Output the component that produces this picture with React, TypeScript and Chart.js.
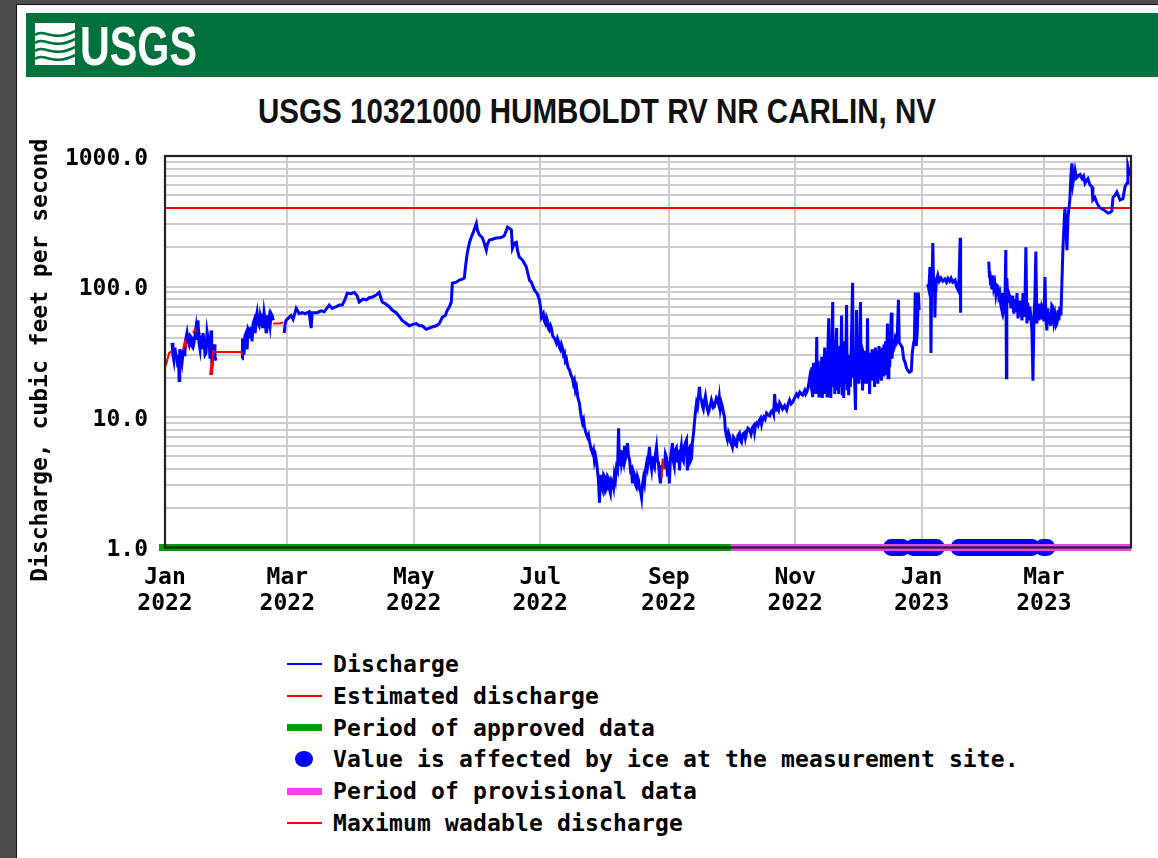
import React, { useEffect, useRef } from 'react';
import { Chart, registerables } from 'chart.js';

Chart.register(...registerables);

const MONO = '"DejaVu Sans Mono", "Liberation Mono", monospace';

// x axis: days since 2022-01-01
const X_MAX = 466;
const xTickDays = [0, 59, 120, 181, 243, 304, 365, 424];
const xTickMonths = ['Jan', 'Mar', 'May', 'Jul', 'Sep', 'Nov', 'Jan', 'Mar'];
const xTickYears = ['2022', '2022', '2022', '2022', '2022', '2022', '2023', '2023'];

// y axis (log) gridline values and labelled values
const yTickValues = [
  1, 2, 3, 4, 5, 6, 7, 8, 9,
  10, 20, 30, 40, 50, 60, 70, 80, 90,
  100, 200, 300, 400, 500, 600, 700, 800, 900,
  1000,
];
const yLabelValues = [1, 10, 100, 1000];

// Discharge, cfs  [day, value]  (null = gap)
const discharge: Array<[number, number | null]> = [
  [3.4, 37], [3.8, 30], [4.3, 27], [4.8, 34], [5.3, 29], [5.8, 28], [6.2, 24], [6.5, 30], [6.8, 19], [7.0, 25],
  [7.2, 33], [7.7, 29], [8.2, 26], [8.7, 31], [9.2, 30], [9.6, 36], [10.1, 40], [10.6, 44], [11.1, 38], [11.6, 36],
  [12.1, 42], [12.6, 41], [13.0, 35], [13.5, 34], [14.0, 37], [14.5, 43], [15.0, 49], [15.5, 40], [15.9, 55], [16.2, 45],
  [16.4, 37], [16.9, 33], [17.4, 42], [17.9, 34], [18.3, 44], [18.8, 39], [19.3, 30], [19.8, 31], [20.3, 45], [20.8, 40],
  [21.2, 41], [21.5, 33], [21.7, 28], [22.0, 38], [22.2, 46], [22.5, 30], [22.7, 24], [23.2, 30], [23.7, 36], [24.1, 29],
  [24.6, 27], [25, null],
  [37.2, 28], [37.4, 40], [37.8, 32], [38.1, 30], [38.6, 42], [39.1, 44], [39.6, 33], [40.1, 47], [40.6, 45], [41.0, 40],
  [41.5, 49], [42.0, 38], [42.5, 52], [43.0, 55], [43.5, 44], [44.0, 58], [44.4, 63], [44.9, 52], [45.4, 50], [45.9, 60],
  [46.4, 55], [46.8, 62], [47.3, 48], [47.8, 63], [48.3, 55], [48.8, 44], [49.3, 60], [49.7, 52], [50.2, 58], [50.7, 50],
  [51.2, 62], [51.7, 60], [52.2, 55], [53, null],
  [57.5, 44], [58.0, 52], [58.4, 55], [59.9, 58], [60.8, 60], [61.8, 56], [63.3, 68], [64.7, 62], [66.2, 63], [67.6, 62],
  [69.5, 64], [70.5, 48], [71.0, 63], [73.4, 63], [75.3, 65], [76.8, 64], [79.2, 72], [80.6, 68], [82.6, 70], [84.0, 72],
  [85.5, 72], [86.9, 80], [87.9, 89], [89.8, 88], [91.3, 90], [92.7, 85], [93.7, 76], [95.6, 80], [97.1, 79], [98.5, 82],
  [100.0, 83], [101.9, 86], [103.3, 90], [104.8, 76], [106.2, 74], [108.2, 70], [109.6, 66], [111.5, 63], [113.0, 59], [114.4, 55],
  [116.4, 52], [117.8, 50], [119.3, 51], [121.2, 52], [122.7, 50], [124.1, 50], [126.0, 47], [127.5, 48], [128.9, 49], [130.9, 50],
  [132.3, 52], [133.8, 58], [135.2, 60], [136.2, 66], [137.2, 70], [138.1, 76], [138.6, 106], [140.5, 108], [142.0, 112], [143.4, 114],
  [144.4, 116], [144.9, 140], [145.8, 180], [146.8, 215], [147.8, 240], [148.7, 260], [150.2, 304], [150.7, 270], [151.6, 250], [153.1, 236],
  [154.0, 215], [155.0, 190], [155.5, 210], [156.5, 227], [157.9, 230], [159.8, 235], [161.3, 236], [162.8, 240], [163.7, 245], [164.7, 270],
  [165.2, 285], [166.1, 280], [167.1, 271], [167.6, 197], [168.5, 215], [169.5, 218], [170.0, 190], [170.9, 168], [172.4, 160], [173.4, 150],
  [174.3, 141], [175.8, 112], [176.7, 108], [178.2, 94], [179.6, 88], [180.6, 79], [181.1, 70], [181.6, 58], [182.5, 62], [183.0, 54],
  [183.5, 52], [184.0, 58], [184.5, 55], [185.0, 47], [185.4, 46], [186.0, 50], [186.4, 48], [187.0, 42], [187.4, 41], [188.2, 39],
  [188.8, 37], [189.3, 40], [189.8, 38], [190.3, 34], [190.7, 33], [191.2, 36], [191.7, 34], [192.2, 30], [192.7, 31], [193.1, 27],
  [193.6, 28], [194.4, 24], [195.1, 23], [195.8, 21], [196.5, 20], [197.0, 18], [197.5, 19], [198.0, 16], [198.5, 17], [199.2, 14],
  [199.9, 12.8], [200.6, 10.5], [201.4, 9.0], [201.9, 9.5], [202.3, 8.5], [203.0, 7.6], [203.8, 7.0], [204.3, 7.3], [204.8, 6.5], [205.5, 5.7],
  [206.2, 5.3], [206.7, 5.6], [207.2, 4.6], [207.7, 5.0], [208.2, 4.5], [208.6, 3.9], [209.1, 3.3], [209.6, 2.2], [210.1, 3.6], [210.6, 3.0],
  [211.1, 2.8], [211.6, 3.6], [212.0, 3.5], [212.5, 2.7], [213.0, 2.8], [213.5, 3.5], [213.9, 3.4], [214.4, 2.8], [214.9, 2.6], [215.4, 3.3],
  [215.9, 3.2], [216.4, 2.9], [216.8, 3.6], [217.3, 3.3], [217.8, 4.1], [218.3, 3.9], [218.8, 8.2], [219.2, 4.2], [219.7, 5.6], [220.2, 4.4],
  [220.7, 4.9], [221.2, 4.5], [221.7, 6.0], [222.1, 4.8], [222.6, 5.2], [223.1, 6.3], [223.6, 5.0], [224.1, 4.7], [224.6, 3.9], [225.0, 4.0],
  [225.5, 3.1], [226.0, 3.8], [226.5, 3.6], [227.0, 3.0], [227.4, 2.9], [227.9, 3.5], [228.4, 3.3], [228.9, 2.8], [229.4, 2.7], [229.9, 2.4],
  [230.3, 3.0], [230.8, 3.4], [231.3, 3.1], [231.8, 3.9], [232.3, 4.4], [232.7, 4.1], [233.2, 4.9], [233.7, 5.9], [234.2, 4.5], [234.7, 4.0],
  [235.1, 5.0], [235.6, 4.3], [236.1, 4.1], [236.6, 5.2], [237.1, 5.9], [237.6, 4.6], [238.0, 4.5], [238.5, 3.6], [239.0, 3.1], [239.5, 4.3],
  [239.8, null],
  [240.9, 4.0], [241.4, 5.2], [241.9, 4.9], [242.4, 3.5], [242.9, 4.6], [243.3, 3.1], [243.8, 4.8], [244.3, 5.5], [244.8, 6.3], [245.2, 4.6],
  [245.7, 4.2], [246.2, 5.6], [246.7, 5.8], [247.2, 4.5], [247.7, 5.6], [248.2, 3.9], [248.7, 5.4], [249.1, 6.0], [249.6, 4.8], [250.1, 4.6],
  [250.6, 6.0], [251.1, 6.4], [251.6, 6.7], [252.0, 3.9], [252.5, 5.6], [253.0, 5.8], [253.5, 4.6], [254.0, 4.8], [254.4, 6.3], [255.0, 7.6],
  [255.4, 9.0], [255.9, 11.0], [256.4, 12.8], [256.9, 12.0], [257.3, 14], [257.8, 17], [258.3, 14], [258.8, 13.5], [259.2, 12.2], [259.7, 11.5],
  [260.2, 13.2], [260.7, 14.5], [261.2, 12.8], [261.6, 11.6], [262.1, 10.8], [262.6, 11.3], [263.1, 12.4], [263.6, 13.5], [264.0, 12.8], [264.5, 11.8],
  [265.0, 12.0], [265.5, 13.0], [266.0, 14.0], [266.5, 13.5], [267.0, 12.6], [267.4, 14.2], [267.9, 11.5], [268.4, 12.8], [268.9, 12], [269.4, 10.8],
  [269.9, 10], [270.3, 8], [270.8, 7.2], [271.3, 6.7], [271.8, 7.6], [272.3, 7.2], [272.8, 6.4], [273.3, 6.2], [273.7, 5.9], [274.2, 7.0],
  [274.7, 6.8], [275.2, 6.1], [275.7, 6.0], [276.4, 7.2], [277.1, 7.5], [277.6, 6.6], [278.1, 6.4], [278.8, 7.4], [279.6, 7.6], [280.0, 6.9],
  [280.5, 7.5], [281.2, 8.2], [282.0, 8.0], [282.7, 7.4], [283.5, 8.4], [284.0, 8.6], [284.4, 7.7], [284.9, 8.8], [285.4, 9.0], [286.1, 8.6],
  [286.8, 9.5], [287.3, 9.8], [287.8, 8.8], [288.3, 9.6], [288.8, 10.0], [289.5, 9.6], [290.2, 10.7], [290.9, 10.4], [291.7, 10.2], [292.4, 11.0],
  [293.1, 11.3], [293.6, 10.6], [294.1, 15], [294.6, 11], [295.0, 12.4], [295.5, 12], [296.0, 11.4], [296.5, 12.8], [297.2, 12.2], [297.9, 11.5],
  [298.9, 12.2], [299.9, 11.3], [300.6, 12.6], [301.3, 13.5], [302.0, 12.6], [302.8, 13.0], [303.7, 14.0], [304.7, 15], [305.4, 14.4], [306.2, 15.5],
  [306.9, 15.0], [307.6, 14.7], [308.1, 15.4], [308.6, 16], [309.1, 15.0], [309.6, 15.5], [310.3, 17], [311.0, 20], [311.5, 18], [312.0, 24],
  [312.4, 14.2], [312.8, 26], [313.2, 15], [313.6, 24], [314.0, 16], [314.4, 41], [314.7, 15], [315.1, 27], [315.5, 14.5], [315.9, 25],
  [316.3, 15], [316.8, 29], [317.1, 14], [317.5, 26], [317.9, 15], [318.2, 34], [318.6, 15], [319.0, 28], [319.4, 14.5], [319.7, 30],
  [320.2, 57], [320.5, 16], [320.9, 27], [321.2, 14], [321.6, 30], [322.1, 76], [322.4, 17], [322.8, 28], [323.1, 15], [323.5, 32],
  [324.0, 48], [324.3, 16], [324.7, 29], [325.0, 15], [325.4, 35], [325.8, 17], [326.4, 60], [326.7, 15], [327.0, 30], [327.4, 14],
  [327.8, 38], [328.2, 18], [328.8, 72], [329.1, 16], [329.5, 30], [329.8, 14.7], [330.2, 28], [330.6, 17], [331.0, 32], [331.7, 107],
  [332.0, 20], [332.4, 30], [332.8, 16], [333.1, 11.3], [333.6, 66], [333.9, 19], [334.3, 30], [334.7, 18], [335.0, 28], [335.5, 76],
  [335.8, 20], [336.2, 30], [336.5, 16], [336.9, 31], [337.4, 29], [337.8, 18], [338.2, 32], [338.5, 18], [338.9, 57], [339.2, 19],
  [339.6, 30], [339.9, 15], [340.3, 31], [340.8, 20], [341.1, 33], [341.5, 19], [341.9, 30], [342.3, 17], [342.7, 34], [343.1, 19],
  [343.5, 32], [343.9, 18], [344.4, 35], [344.8, 20], [345.2, 33], [345.6, 19], [346.0, 34], [346.4, 21], [346.8, 36], [347.2, 22],
  [347.6, 38], [348.0, 21], [348.5, 52], [348.8, 20], [349.2, 40], [349.6, 24], [350.0, 45], [350.4, 63], [350.7, 28], [350.9, 31],
  [351.8, 34], [352.3, 40], [352.8, 38], [353.3, 44], [353.8, 79], [354.2, 37], [354.8, 36], [355.7, 34], [356.3, 28], [357.1, 26],
  [357.6, 24], [358.1, 23], [359.1, 22], [360.0, 22.5], [360.5, 31], [361.0, 36], [361.5, 39], [361.9, 90], [362.4, 35], [362.9, 45],
  [363.4, 90], [363.8, 66], [364.5, null],
  [367.6, 100], [368.1, 102], [368.5, 95], [369.0, 141], [369.3, 110], [369.5, 31], [369.8, 90], [370.0, 106], [370.4, 215], [370.7, 120],
  [370.9, 90], [371.2, 110], [371.4, 58], [371.7, 95], [371.9, 100], [372.4, 115], [372.8, 122], [373.5, 110], [374.3, 116], [375.2, 110],
  [376.2, 114], [377.0, 108], [377.7, 115], [378.5, 110], [379.2, 116], [380.0, 108], [381.1, 112], [381.8, 100], [382.6, 94], [383.1, 118],
  [383.6, 236], [383.8, 63], [384.5, null],
  [397.4, 155], [397.7, 120], [397.9, 130], [398.2, 105], [398.4, 112], [398.9, 95], [399.4, 122], [399.8, 98], [400.3, 106], [400.8, 88],
  [401.3, 102], [401.8, 100], [402.2, 84], [402.7, 89], [403.2, 72], [403.7, 66], [404.2, 89], [404.7, 70], [405.2, 80], [405.6, 190],
  [405.9, 20], [406.1, 116], [406.6, 75], [407.1, 88], [407.6, 83], [408.1, 68], [408.6, 85], [409.0, 74], [409.5, 62], [410.0, 80],
  [410.5, 64], [411.0, 89], [411.5, 57], [412.0, 78], [412.4, 60], [412.9, 70], [413.4, 55], [413.9, 89], [414.4, 60], [414.8, 72],
  [415.3, 200], [415.8, 52], [416.2, 75], [416.7, 55], [417.2, 70], [417.7, 58], [418.2, 46], [418.7, 19], [419.2, 60], [419.6, 79],
  [420.1, 185], [420.6, 52], [421.0, 72], [421.5, 55], [422.0, 74], [422.5, 56], [423.0, 70], [423.5, 66], [424.0, 54], [424.5, 118],
  [424.9, 60], [425.4, 46], [425.9, 68], [426.3, 52], [426.8, 63], [427.3, 50], [427.8, 72], [428.3, 70], [428.8, 54], [429.3, 60],
  [429.8, 50], [430.3, 52], [430.8, 66], [431.2, 55], [431.7, 70], [432.2, 60], [432.7, 112], [433.2, 200], [434.1, 405], [434.6, 300],
  [435.1, 190], [435.6, 340], [436.5, 460], [437.0, 700], [437.5, 880], [438.0, 620], [439.0, 780], [439.7, 680], [440.4, 700], [441.4, 720],
  [442.4, 670], [443.1, 700], [443.8, 620], [444.5, 650], [445.2, 670], [446.2, 600], [447.2, 580], [447.6, 460], [448.6, 480], [449.6, 435],
  [451.0, 400], [452.5, 390], [453.5, 380], [454.9, 365], [455.9, 370], [456.8, 380], [457.3, 480], [458.3, 500], [459.2, 530], [460.7, 460],
  [462.1, 470], [463.1, 580], [464.1, 620], [464.5, 830], [465.5, 700],
];

// Estimated discharge, cfs  [day, value]
const estimated: Array<[number, number | null]> = [
  [0, 24], [1.0, 27], [2.0, 31], [3.4, 32], [3.6, null],
  [8.7, 33], [9.7, 38], [10.1, 36], [10.4, null],
  [13.5, 44], [14.5, 47], [15.0, 45], [15.3, null],
  [21.7, 21], [22.2, 24], [22.7, 21], [23.2, 32], [24.6, 31.5], [36.7, 31.5], [37.2, 30], [37.5, null],
  [52.2, 52], [55.5, 52], [57.0, 53], [57.5, null],
  [239.6, 3.4], [240.0, 4.8], [240.4, 4.2], [240.9, 4.0],
];

const maxWadableCfs = 400;
const approvedPeriod = [-2.9, 273];
const provisionalPeriod = [273, X_MAX];
const iceStart = [350.4, 360.9, 383.0, 423.5];
const iceEnd = [355.6, 372.1, 418.2, 425.4];

const legendItems = [
  { label: 'Discharge', kind: 'line', color: '#0000ff', w: 2 },
  { label: 'Estimated discharge', kind: 'line', color: '#ff0000', w: 2 },
  { label: 'Period of approved data', kind: 'line', color: '#009c00', w: 7 },
  { label: 'Value is affected by ice at the measurement site.', kind: 'dot', color: '#0000ff', w: 0 },
  { label: 'Period of provisional data', kind: 'line', color: '#ee44ee', w: 7 },
  { label: 'Maximum wadable discharge', kind: 'line', color: '#ff0000', w: 2 },
];

const framePlugin = {
  id: 'plotFrame',
  afterLayout(chart: any) {
    // centre the rotated y-axis title slightly lower, as in the original
    const y = chart.scales.y;
    if (y) y.bottom = chart.chartArea.bottom + 17;
  },
  afterDatasetsDraw(chart: any) {
    const { ctx, chartArea: a } = chart;
    ctx.save();
    ctx.strokeStyle = '#222222';
    ctx.lineWidth = 2.2;
    ctx.strokeRect(a.left, a.top, a.right - a.left, a.bottom - a.top);
    ctx.restore();
  },
};

export default function App() {
  const canvasRef = useRef<HTMLCanvasElement | null>(null);

  useEffect(() => {
    const canvas = canvasRef.current;
    if (!canvas) return;
    const pts = (pairs: Array<[number, number | null]>) => pairs.map(([x, y]) => ({ x, y }));
    const iceData: any[] = [];
    iceStart.forEach((s, i) => {
      iceData.push({ x: s, y: 1 }, { x: iceEnd[i], y: 1 }, { x: iceEnd[i] + 0.1, y: null });
    });
    const tickFont = { family: MONO, size: 23, weight: 'bold' as const, lineHeight: '26px' };

    const chart = new Chart(canvas, {
      type: 'line',
      data: {
        datasets: [
          {
            label: 'Discharge',
            data: pts(discharge) as any,
            borderColor: '#0000ff',
            borderWidth: 3,
            borderJoinStyle: 'miter',
            pointRadius: 0,
            spanGaps: false,
            order: 2,
          },
          {
            label: 'Estimated discharge',
            data: pts(estimated) as any,
            borderColor: '#ff0000',
            borderWidth: 2,
            pointRadius: 0,
            spanGaps: false,
            order: 1,
          },
          {
            label: 'Maximum wadable discharge',
            data: [{ x: 0, y: maxWadableCfs }, { x: X_MAX, y: maxWadableCfs }],
            borderColor: '#ff0000',
            borderWidth: 2,
            pointRadius: 0,
            order: 3,
          },
          {
            label: 'Period of approved data',
            data: [{ x: approvedPeriod[0], y: 1 }, { x: approvedPeriod[1], y: 1 }],
            borderColor: '#009c00',
            borderWidth: 7,
            pointRadius: 0,
            clip: false as any,
            order: 5,
          },
          {
            label: 'Period of provisional data',
            data: [{ x: provisionalPeriod[0], y: 1 }, { x: provisionalPeriod[1], y: 1 }],
            borderColor: '#ee44ee',
            borderWidth: 7,
            pointRadius: 0,
            clip: false as any,
            order: 5,
          },
          {
            label: 'Value is affected by ice at the measurement site.',
            data: iceData,
            borderColor: '#0000ff',
            borderWidth: 17,
            borderCapStyle: 'round',
            pointRadius: 0,
            spanGaps: false,
            clip: false as any,
            order: 6,
          },
        ],
      },
      options: {
        animation: false,
        responsive: false,
        maintainAspectRatio: false,
        devicePixelRatio: 1,
        layout: { padding: { top: 36, right: 27, left: 0, bottom: 0 } },
        elements: { line: { tension: 0 }, point: { radius: 0 } },
        plugins: {
          legend: { display: false },
          tooltip: { enabled: false },
          title: { display: false },
        },
        scales: {
          x: {
            type: 'linear',
            min: 0,
            max: X_MAX,
            afterBuildTicks: (axis: any) => {
              axis.ticks = xTickDays.map((v) => ({ value: v }));
            },
            afterFit: (axis: any) => {
              axis.height = 92.5;
            },
            grid: { color: '#cccccc', lineWidth: 2, drawTicks: false },
            border: { display: false },
            ticks: {
              autoSkip: false,
              maxRotation: 0,
              minRotation: 0,
              padding: 18,
              color: '#000000',
              font: tickFont,
              callback: (_v: any, i: number) => [xTickMonths[i], xTickYears[i]],
            },
          },
          y: {
            type: 'logarithmic',
            min: 1,
            max: 1000,
            afterBuildTicks: (axis: any) => {
              axis.ticks = yTickValues.map((v) => ({ value: v }));
            },
            afterFit: (axis: any) => {
              axis.width = 165;
            },
            grid: { color: '#cccccc', lineWidth: 2, drawTicks: false },
            border: { display: false },
            ticks: {
              autoSkip: false,
              padding: 17,
              labelOffset: 3,
              color: '#000000',
              font: tickFont,
              callback: (v: any) => (yLabelValues.includes(Number(v)) ? Number(v).toFixed(1) : ''),
            },
            title: {
              display: true,
              text: 'Discharge, cubic feet per second',
              color: '#000000',
              font: { family: MONO, size: 23, weight: 'bold' },
              padding: { top: 27, bottom: 0 },
            },
          },
        },
      },
      plugins: [framePlugin],
    } as any);

    return () => chart.destroy();
  }, []);

  return (
    <div style={{ position: 'fixed', left: 0, top: 0, width: 1158, height: 858, background: '#4d4d4d', overflow: 'hidden' }}>
      <div
        style={{
          position: 'absolute',
          left: 16,
          top: 4,
          width: 1142,
          height: 854,
          background: '#ffffff',
          borderLeft: '1px solid #111',
          borderTop: '1px solid #111',
          boxSizing: 'border-box',
        }}
      />
      {/* USGS banner */}
      <div style={{ position: 'absolute', left: 26, top: 13, width: 1132, height: 64, background: '#00703c' }}>
        <svg width={220} height={64} style={{ position: 'absolute', left: 0, top: 0 }}>
          <rect x={9} y={10} width={40} height={42} fill="#ffffff" />
          <path d="M9,22 C18,15 28,30 49,18" stroke="#00703c" strokeWidth={2.6} fill="none" />
          <path d="M9,30 C18,23 28,38 49,26" stroke="#00703c" strokeWidth={2.6} fill="none" />
          <path d="M9,38 C18,31 28,46 49,34" stroke="#00703c" strokeWidth={2.6} fill="none" />
          <path d="M9,46 C18,39 28,54 49,42" stroke="#00703c" strokeWidth={2.6} fill="none" />
          <text
            x={54}
            y={52}
            fill="#ffffff"
            fontFamily='"Liberation Sans Narrow", "Liberation Sans", Arial, sans-serif'
            fontWeight="bold"
            fontSize={56}
            textLength={117}
            lengthAdjust="spacingAndGlyphs"
          >
            USGS
          </text>
        </svg>
      </div>
      {/* Title */}
      <svg width={1158} height={60} style={{ position: 'absolute', left: 0, top: 80 }}>
        <text
          x={258}
          y={43}
          fill="#111111"
          fontFamily='"Liberation Sans Narrow", "Liberation Sans", Arial, sans-serif'
          fontWeight="bold"
          fontSize={35}
          textLength={678}
          lengthAdjust="spacingAndGlyphs"
        >
          USGS 10321000 HUMBOLDT RV NR CARLIN, NV
        </text>
      </svg>
      {/* Chart */}
      <div style={{ position: 'absolute', left: 0, top: 120, width: 1158, height: 520 }}>
        <canvas ref={canvasRef} width={1158} height={520} style={{ display: 'block', width: 1158, height: 520 }} />
      </div>
      {/* Legend */}
      {legendItems.map((it, i) => {
        const cy = 664 + i * 31.8;
        return (
          <div key={it.label} style={{ position: 'absolute', left: 0, top: cy - 14, height: 28, width: 1158 }}>
            {it.kind === 'line' ? (
              <div
                style={{
                  position: 'absolute',
                  left: 287,
                  top: 14 - it.w / 2,
                  width: 35,
                  height: it.w,
                  background: it.color,
                }}
              />
            ) : (
              <div
                style={{
                  position: 'absolute',
                  left: 295,
                  top: 6,
                  width: 18,
                  height: 16,
                  borderRadius: '50%',
                  background: it.color,
                }}
              />
            )}
            <div
              style={{
                position: 'absolute',
                left: 333,
                top: 0,
                height: 28,
                lineHeight: '28px',
                fontFamily: MONO,
                fontWeight: 'bold',
                fontSize: 23,
                letterSpacing: '0.15px',
                color: '#000',
                whiteSpace: 'pre',
              }}
            >
              {it.label}
            </div>
          </div>
        );
      })}
    </div>
  );
}
